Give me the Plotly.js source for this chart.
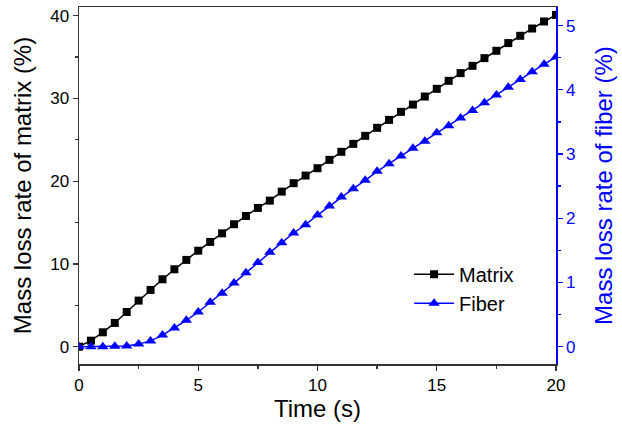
<!DOCTYPE html>
<html>
<head>
<meta charset="utf-8">
<script src="https://cdn.plot.ly/plotly-3.0.1.min.js"></script>
<style>html,body{margin:0;padding:0;background:#fff;}#chart{width:622px;height:424px;}</style>
</head>
<body>
<div id="chart"></div>
<script>
const time = [0,0.5,1,1.5,2,2.5,3,3.5,4,4.5,5,5.5,6,6.5,7,7.5,8,8.5,9,9.5,10,10.5,11,11.5,12,12.5,13,13.5,14,14.5,15,15.5,16,16.5,17,17.5,18,18.5,19,19.5,20];
const matrixLoss = [0,0.73,1.74,2.87,4.2,5.57,6.86,8.15,9.36,10.49,11.6,12.66,13.7,14.8,15.8,16.77,17.65,18.74,19.76,20.68,21.57,22.58,23.55,24.51,25.48,26.45,27.41,28.38,29.26,30.23,31.16,32.13,33.06,33.94,34.87,35.76,36.69,37.57,38.45,39.3,40.1];
const fiberLoss = [0,0,0,0.005,0.01,0.04,0.09,0.18,0.29,0.41,0.54,0.69,0.83,0.99,1.15,1.31,1.47,1.62,1.77,1.9,2.05,2.19,2.33,2.46,2.59,2.73,2.85,2.97,3.09,3.2,3.33,3.44,3.56,3.68,3.8,3.92,4.04,4.16,4.28,4.4,4.51];
const xTicks = [0,5,10,15,20];
const yTicks = [0,10,20,30,40];
const y2Ticks = [0,1,2,3,4,5];

const FONT = 'Liberation Sans, Arial, sans-serif';
const traces = [
  {x: time, y: matrixLoss, name: 'Matrix', type: 'scatter', mode: 'lines+markers',
   line: {color: '#000000', width: 1.5}, marker: {symbol: 'square', size: 8, color: '#000000'}},
  {x: time, y: fiberLoss, name: 'Fiber', type: 'scatter', mode: 'lines+markers', yaxis: 'y2',
   line: {color: '#0000ff', width: 1.5}, marker: {symbol: 'triangle-up', size: 10, color: '#0000ff'}}
];
const layout = {
  width: 622, height: 424,
  margin: {l: 79, r: 65.5, t: 7, b: 60},
  paper_bgcolor: '#ffffff', plot_bgcolor: '#ffffff',
  font: {family: FONT, size: 17, color: '#000000'},
  showlegend: true,
  legend: {x: 0.692, y: 0.306, xanchor: 'left', yanchor: 'top', bgcolor: 'rgba(0,0,0,0)',
           font: {size: 20, color: '#000000'}, itemwidth: 40, tracegroupgap: 0},
  xaxis: {range: [0, 20], tickvals: xTicks, ticktext: xTicks.map(String), ticks: 'outside', ticklen: 5, tickwidth: 1.3,
          tickcolor: '#333', showline: true, linecolor: '#333', linewidth: 1.5, mirror: true, showgrid: false, zeroline: false,
          minor: {dtick: 2.5, ticks: 'outside', ticklen: 3, tickcolor: '#333', showgrid: false},
          title: {text: 'Time (s)', font: {size: 24}, standoff: 4}, tickfont: {size: 17}},
  yaxis: {range: [-2.09, 41.05], tickvals: yTicks, ticktext: yTicks.map(String), ticks: 'outside', ticklen: 5, tickwidth: 1.3,
          tickcolor: '#333', showline: true, linecolor: '#333', linewidth: 1.5, showgrid: false, zeroline: false,
          minor: {dtick: 5, ticks: 'outside', ticklen: 3, tickcolor: '#333', showgrid: false},
          title: {text: 'Mass loss rate of matrix (%)', font: {size: 24}, standoff: 12}, tickfont: {size: 17}},
  yaxis2: {range: [-0.27, 5.29], overlaying: 'y', side: 'right', tickvals: y2Ticks, ticktext: y2Ticks.map(String),
           ticks: 'outside', ticklen: 5, tickwidth: 1.3, tickcolor: '#0000ff', showline: true, linecolor: '#0000ff', linewidth: 1.5,
           showgrid: false, zeroline: false,
           minor: {dtick: 0.5, ticks: 'outside', ticklen: 3, tickcolor: '#0000ff', showgrid: false},
           tickfont: {size: 17, color: '#0000ff'},
           title: {text: 'Mass loss rate of fiber (%)', font: {size: 24, color: '#0000ff'}, standoff: 21}}
};
Plotly.newPlot('chart', traces, layout, {displayModeBar: false, staticPlot: true});
</script>
</body>
</html>
